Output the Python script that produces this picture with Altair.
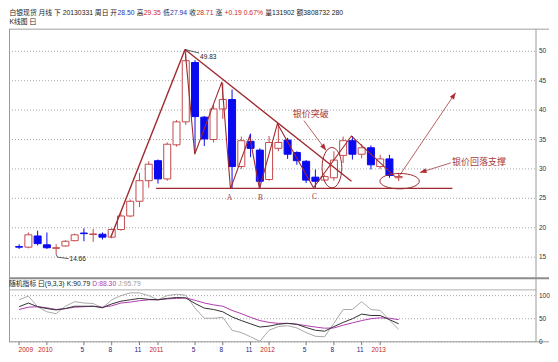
import altair as alt
import pandas as pd

# ---------------- data ----------------
months = ["2009-10", "2009-11", "2009-12",
          "2010-01", "2010-02", "2010-03", "2010-04", "2010-05", "2010-06",
          "2010-07", "2010-08", "2010-09", "2010-10", "2010-11", "2010-12",
          "2011-01", "2011-02", "2011-03", "2011-04", "2011-05", "2011-06",
          "2011-07", "2011-08", "2011-09", "2011-10", "2011-11", "2011-12",
          "2012-01", "2012-02", "2012-03", "2012-04", "2012-05", "2012-06",
          "2012-07", "2012-08", "2012-09", "2012-10", "2012-11", "2012-12",
          "2013-01", "2013-02", "2013-03"]
opens = [16.8, 16.7, 18.6, 17.1, 16.5, 16.9, 17.8, 19.1, 18.85, 18.9, 18.4, 19.7,
         22.0, 24.5, 28.0, 31.4, 28.3, 34.1, 38.0, 48.1, 38.8, 35.0, 40.2, 41.8,
         30.4, 34.7, 33.2, 28.2, 33.5, 34.9, 32.8, 31.3, 28.6, 28.1, 28.5, 32.3,
         34.8, 32.5, 33.6, 30.4, 31.7, 28.50]
highs = [17.2, 19.2, 19.5, 19.2, 17.2, 17.9, 19.0, 19.9, 19.8, 19.2, 19.9, 22.4,
         24.8, 29.3, 31.3, 31.6, 34.5, 38.3, 49.83, 48.5, 39.0, 41.0, 44.6, 43.5,
         35.5, 36.0, 33.5, 35.6, 37.7, 35.3, 33.0, 31.5, 29.9, 29.0, 33.0, 35.5,
         35.6, 34.2, 34.0, 32.4, 32.4, 29.35]
lows = [16.4, 16.5, 17.0, 16.4, 15.5, 16.8, 17.7, 17.7, 17.6, 18.0, 18.2, 19.5,
        21.8, 23.5, 26.8, 27.5, 28.0, 33.8, 37.5, 32.8, 33.9, 34.5, 38.5, 26.6,
        30.0, 32.0, 26.6, 28.0, 33.0, 31.7, 30.7, 27.6, 26.8, 27.8, 28.0, 31.0,
        31.6, 31.8, 29.9, 30.0, 28.5, 27.94]
closes = [16.7, 18.8, 17.3, 16.6, 16.6, 17.7, 18.8, 19.0, 18.95, 18.4, 19.7, 22.0,
          24.5, 28.0, 30.8, 28.3, 34.2, 38.0, 48.4, 38.9, 35.1, 40.2, 41.8, 30.4,
          34.8, 33.5, 27.9, 34.5, 34.5, 32.5, 31.4, 28.1, 27.9, 28.7, 31.5, 34.8,
          32.5, 33.6, 30.7, 31.7, 28.9, 28.71]

k_vals = [76, 84, 76, 72, 69, 72, 77, 77, 77, 74, 82, 88, 91, 94, 92, 91, 94, 96, 95, 83,
          73, 70, 65, 54, 46, 39, 32, 34, 38, 40, 38, 31, 25, 23, 33, 42, 50, 60, 57, 57,
          48, 39]
d_vals = [70, 75, 76, 73.6, 70, 72, 75, 76, 77, 75, 78, 84, 86, 89, 91, 91, 93, 94, 95, 90,
          84, 80, 77, 68, 61, 53, 46, 42, 40, 40, 38, 35, 32, 29.5, 30, 36, 41, 46, 50, 52,
          51, 48]
j_vals = [91, 99, 76, 65, 61, 77, 87, 84, 83, 73, 91, 100, 106, 106, 100, 91, 100, 103, 101, 73,
          51, 51, 53, 25, 20, 11, 1, 25, 33, 35, 30, 20, 12, 11, 40, 70, 70, 87, 70, 68,
          47, 27]

tick_pos = [3, 7, 10, 13, 15, 19, 22, 25, 27, 31, 34, 37, 39]
tick_text = ["2010", "5", "8", "11", "2011", "5", "8", "11", "2012", "5", "8", "11", "2013"]
tick_kind = ["y", "m", "m", "m", "y", "m", "m", "m", "y", "m", "m", "m", "y"]
first_tick_pos = [0]
first_tick_text = ["2009"]

price_ticks = [15, 20, 25, 30, 35, 40, 45, 50]
kdj_ticks = [0, 50, 100]

# hand-drawn analysis lines, in (month index, price)
rise_x, rise_y = [9.9, 17.92], [18.4, 50.3]
trend_x, trend_y = [17.92, 35.9], [50.3, 27.9]
zig_x = [17.92, 18.97, 21.9, 22.83, 24.9, 25.96, 27.9, 31.8, 35.9, 40.6]
zig_y = [50.3, 32.5, 44.8, 26.6, 35.6, 26.6, 37.7, 26.8, 35.6, 28.7]
support_x, support_y = [14.8, 46.8], [26.7, 26.7]
peak_lead_x, peak_lead_y = [17.92, 19.45], [50.3, 49.7]
low_lead_x, low_lead_y = [4.0, 4.15, 5.35], [15.5, 15.0, 14.75]
arrow1_x, arrow1_y = [30.76, 33.16], [38.22, 33.15]
arrow2_x, arrow2_y = [46.63, 43.29], [31.03, 29.39]
arrow3_x, arrow3_y = [40.89, 47.15], [28.41, 42.97]
ell1_x, ell1_y = [33.79], [30.21]
ell2_x, ell2_y = [41.1], [27.92]
abc_text, abc_x, abc_y = ["A", "B", "C"], [22.72, 26.07, 31.9], [25.14, 25.14, 25.3]
peak_label, peak_lx, peak_ly = ["49.83"], [19.55], [49.0]
low_label, low_lx, low_ly = ["14.66"], [5.45], [14.67]
note1, note1_x, note1_y = ["银价突破"], [31.49], [39.37]
note2, note2_x, note2_y = ["银价回落支撑"], [49.66], [31.19]

header_texts = ["白银现货 月线 下 20130331 周日 开", "28.50", "高", "29.35", "低", "27.94",
                "收", "28.71", "涨", "+0.19 0.67%", "量131902 额3808732 280"]
header_kinds = ["k", "b", "k", "r", "k", "b", "k", "r", "k", "r", "k"]
header_space = [0, 0, 1, 0, 1, 0, 1, 0, 1, 1, 1]
sub_texts = ["随机指标 曰(9,3,3)", "K:90.79", "D:88.30", "J:95.79"]
sub_kinds = ["k", "k", "m", "g"]

# ---------------- layout / style ----------------
SX, SY = 0.985, 0.962
def px(rx):
    return (rx - 3) * SX
def py(ry):
    return ry * SY

W, H = 527, 346
XDOM = [-0.553, 55.29]
PRICE_DOM, PRICE_RNG = [15, 50], [py(259), py(45)]
KDJ_DOM, KDJ_RNG = [0, 100], [py(347), py(299)]

CJK = "Noto Sans CJK SC"
LAT = "Liberation Sans"
MIX = "Liberation Sans, Noto Sans CJK SC"
SERIF = "Liberation Serif"
C_UP = "#c44a4c"
C_DN = "#0a0af0"
C_LINE = "#9e2a30"
C_TXT = "#a53a3c"
C_GRID = "#a8a8a8"
C_FRAME = "#9a9a9a"
HDR_COL = {"k": "#1a1a1a", "b": "#2a34b0", "r": "#d02828", "m": "#b23cb2", "g": "#9a9a9a"}
HDR_SIZE = 6.8

# approximate advance widths (em) of Liberation Sans, CJK glyphs full width
_W = {" ": 0.278, ".": 0.278, ",": 0.278, ":": 0.278, "+": 0.584, "%": 0.889, "(": 0.333,
      ")": 0.333, "K": 0.667, "D": 0.722, "J": 0.5}
def text_width(s, f):
    w = 0.0
    for ch in s:
        if ord(ch) > 0x2E80:
            w += 1.0
        elif ch.isdigit():
            w += 0.556
        else:
            w += _W.get(ch, 0.556)
    return w * f


def X(field):
    return alt.X(field, type="quantitative", scale=alt.Scale(domain=XDOM, nice=False, zero=False), axis=None)


def YP(field):
    return alt.Y(field, type="quantitative",
                 scale=alt.Scale(domain=PRICE_DOM, range=PRICE_RNG, nice=False, zero=False), axis=None)


def YK(field):
    return alt.Y(field, type="quantitative",
                 scale=alt.Scale(domain=KDJ_DOM, range=KDJ_RNG, nice=False, zero=False), axis=None)


one = pd.DataFrame({"a": [0]})


def hline(y, x1, x2, color, width=1.0, dash=None):
    kw = {"strokeDash": dash} if dash else {}
    return alt.Chart(one).mark_rule(color=color, strokeWidth=width, **kw).encode(
        y=alt.value(y), x=alt.value(x1), x2=alt.value(x2))


def vline(x, y1, y2, color, width=1.0):
    return alt.Chart(one).mark_rule(color=color, strokeWidth=width).encode(
        x=alt.value(x), y=alt.value(y1), y2=alt.value(y2))


def ptext(txt, x, y, color, size=7, font=MIX, align="left"):
    return alt.Chart(pd.DataFrame({"t": [txt]})).mark_text(
        align=align, baseline="middle", font=font, fontSize=size, color=color).encode(
        x=alt.value(x), y=alt.value(y), text="t:N")


def poly(xs, ys, color, width):
    df = pd.DataFrame({"x": xs, "y": ys, "k": list(range(len(xs)))})
    return alt.Chart(df).mark_line(color=color, strokeWidth=width).encode(
        x=X("x"), y=YP("y"), order="k:Q")


kb = 0.5523
def ellipse_path(a, b):
    v = lambda n: f"{n:.3f}"
    return (f"M{v(-a)},0C{v(-a)},{v(-kb*b)} {v(-kb*a)},{v(-b)} 0,{v(-b)}"
            f"C{v(kb*a)},{v(-b)} {v(a)},{v(-kb*b)} {v(a)},0"
            f"C{v(a)},{v(kb*b)} {v(kb*a)},{v(b)} 0,{v(b)}"
            f"C{v(-kb*a)},{v(b)} {v(-a)},{v(kb*b)} {v(-a)},0Z")


def ellipse(xs, ys, rx, ry):
    s = max(rx, ry)
    return alt.Chart(pd.DataFrame({"x": xs, "y": ys})).mark_point(
        shape=ellipse_path(rx / s, ry / s), size=(2 * s) ** 2, filled=False,
        stroke=C_LINE, strokeWidth=1, opacity=1).encode(x=X("x"), y=YP("y"))


ARROW = "M0,0L0.75,2L-0.75,2Z"
def arrowhead(xs, ys, angle):
    return alt.Chart(pd.DataFrame({"x": [xs[-1]], "y": [ys[-1]]})).mark_point(
        shape=ARROW, size=44, filled=True, color="#b02a30", opacity=1,
        angle=angle, strokeWidth=0).encode(x=X("x"), y=YP("y"))


# ---------------- tables ----------------
candles = pd.DataFrame({"i": list(range(len(months))), "month": months, "o": opens,
                        "h": highs, "l": lows, "c": closes})
candles["dir"] = ["up" if c >= o else "down" for o, c in zip(opens, closes)]
kdj = pd.DataFrame({"i": list(range(len(months))), "K": k_vals, "D": d_vals, "J": j_vals})
ticks = pd.DataFrame({"i": tick_pos, "t": tick_text, "kind": tick_kind})
first_tick = pd.DataFrame({"i": first_tick_pos, "t": first_tick_text})
pt = pd.DataFrame({"p": price_ticks})
kt = pd.DataFrame({"p": kdj_ticks})

layers = []

# gridlines
layers.append(alt.Chart(pt).mark_rule(color=C_GRID, strokeWidth=1, strokeDash=[1, 2]).encode(
    y=YP("p"), x=alt.value(0), x2=alt.value(W)))
layers.append(alt.Chart(kt).mark_rule(color=C_GRID, strokeWidth=1, strokeDash=[1, 2]).encode(
    y=YK("p"), x=alt.value(0), x2=alt.value(W)))

# frame
layers += [
    hline(py(22), 0, 540, "#a0a0a0"),
    hline(py(281), 0, 540, "#8c8c8c", 2),
    hline(py(293), 0, W, "#b0b0b0"),
    hline(py(347), 0, 540, C_FRAME),
    vline(0.5, py(22), py(347), C_FRAME),
    vline(W, py(22), py(347), C_FRAME),
]

# axis labels (right side)
layers.append(alt.Chart(pt).mark_text(align="left", baseline="middle", font=LAT, fontSize=6.5,
                                      color="#333333").encode(
    y=YP("p"), x=alt.value(W + 3), text="p:Q"))
layers.append(alt.Chart(kt).mark_text(align="left", baseline="middle", font=LAT, fontSize=6.5,
                                      color="#333333").encode(
    y=YK("p"), x=alt.value(W + 3), text="p:Q"))

# time axis
layers.append(alt.Chart(pd.concat([first_tick, ticks[["i", "t"]]])).mark_rule(
    color="#777777", strokeWidth=1).encode(x=X("i"), y=alt.value(py(347)), y2=alt.value(py(350.5))))
layers.append(alt.Chart(ticks).mark_text(align="center", baseline="middle", font=LAT, fontSize=6.5,
                                         dx=-1.5).encode(
    x=X("i"), y=alt.value(py(355)), text="t:N",
    color=alt.Color("kind:N", scale=alt.Scale(domain=["y", "m"], range=["#c42424", "#23237e"]),
                    legend=None)))
layers.append(alt.Chart(first_tick).mark_text(align="left", baseline="middle", font=LAT, fontSize=6.5,
                                              color="#c42424", dx=-0.5).encode(
    x=X("i"), y=alt.value(py(355)), text="t:N"))

# candles
layers.append(alt.Chart(candles).mark_rule(strokeWidth=1).encode(
    x=X("i"), y=YP("l"), y2="h",
    color=alt.Color("dir:N", scale=alt.Scale(domain=["up", "down"], range=[C_UP, C_DN]), legend=None)))
layers.append(alt.Chart(candles).transform_filter("datum.dir == 'up'").mark_bar(
    size=7, fill="white", stroke=C_UP, strokeWidth=1).encode(x=X("i"), y=YP("o"), y2="c"))
layers.append(alt.Chart(candles).transform_filter("datum.dir == 'down'").mark_bar(
    size=7, fill=C_DN, stroke=C_DN, strokeWidth=1).encode(x=X("i"), y=YP("o"), y2="c"))

# analysis drawing
layers += [
    poly(rise_x, rise_y, C_LINE, 1.4),
    poly(trend_x, trend_y, C_LINE, 1.4),
    poly(zig_x, zig_y, C_LINE, 1.1),
    poly(support_x, support_y, C_LINE, 1.4),
    poly(peak_lead_x, peak_lead_y, "#333333", 0.8),
    poly(low_lead_x, low_lead_y, "#333333", 0.8),
    poly(arrow1_x, arrow1_y, "#b05050", 0.9),
    poly(arrow2_x, arrow2_y, "#b05050", 0.9),
    poly(arrow3_x, arrow3_y, "#b05050", 0.9),
    arrowhead(arrow1_x, arrow1_y, 143),
    arrowhead(arrow2_x, arrow2_y, 253),
    arrowhead(arrow3_x, arrow3_y, 34),
    ellipse(ell1_x, ell1_y, 10 * SX, 21 * SY),
    ellipse(ell2_x, ell2_y, 20 * SX, 8 * SY),
]


def dtext(txts, xs, ys, color, size, font, align="center"):
    return alt.Chart(pd.DataFrame({"t": txts, "x": xs, "y": ys})).mark_text(
        align=align, baseline="middle", font=font, fontSize=size, color=color).encode(
        x=X("x"), y=YP("y"), text="t:N")


layers += [
    dtext(abc_text, abc_x, abc_y, C_TXT, 7.5, SERIF),
    dtext(peak_label, peak_lx, peak_ly, "#222222", 6.5, LAT, "left"),
    dtext(low_label, low_lx, low_ly, "#222222", 6.5, LAT, "left"),
    dtext(note1, note1_x, note1_y, C_TXT, 9, CJK),
    dtext(note2, note2_x, note2_y, C_TXT, 9, CJK),
]

# KDJ lines
for col, colour in [("J", "#a9a9a9"), ("D", "#b23cb2"), ("K", "#333333")]:
    layers.append(alt.Chart(kdj).mark_line(color=colour, strokeWidth=1).encode(x=X("i"), y=YK(col)))

# headers: segments placed one after another
def header_row(texts, kinds, spaces, y, x0):
    out = []
    x = x0
    sp = text_width(" ", HDR_SIZE)
    for t, kd, s in zip(texts, kinds, spaces):
        x += sp * s
        out.append(ptext(t, x, y, HDR_COL[kd], HDR_SIZE))
        x += text_width(t, HDR_SIZE) + 0.3
    return out

layers += header_row(header_texts, header_kinds, header_space, py(5), px(3.5))
layers.append(ptext("K线图 曰", px(3.5), py(15), "#1a1a1a", HDR_SIZE))
layers += header_row(sub_texts, sub_kinds, [0, 1, 1, 1], py(287), px(3))

chart = alt.layer(*layers).resolve_scale(y="independent", color="independent").properties(
    width=W, height=H, padding=0, background="white"
).configure_view(stroke=None)

chart.save("out.html", embed_options={"renderer": "svg", "actions": False})
